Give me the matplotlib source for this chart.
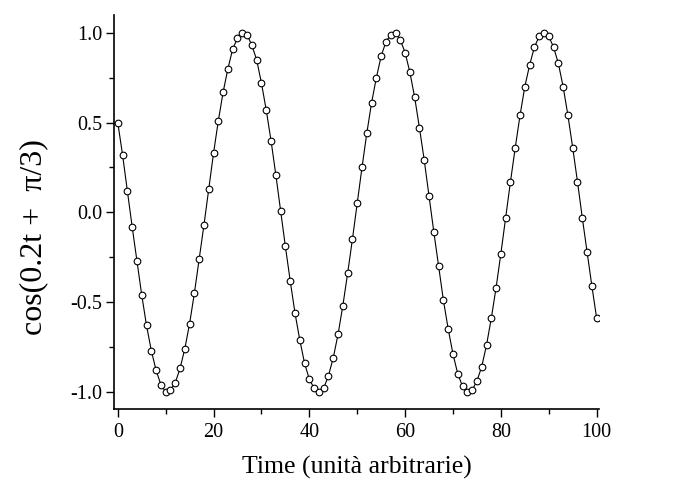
import matplotlib
matplotlib.use("Agg")
import matplotlib.pyplot as plt
from matplotlib.ticker import MultipleLocator

plt.rcParams['font.family'] = ['Liberation Serif', 'DejaVu Serif']

# tempo (unità arbitrarie) e valori
tempo = list(range(0, 101))
valori = [
    0.50, 0.32, 0.12, -0.08, -0.27, -0.46, -0.63, -0.77, -0.88, -0.96,
    -1.00, -0.99, -0.95, -0.87, -0.76, -0.62, -0.45, -0.26, -0.07, 0.13,
    0.33, 0.51, 0.67, 0.80, 0.91, 0.97, 1.00, 0.99, 0.93, 0.85,
    0.72, 0.57, 0.40, 0.21, 0.01, -0.19, -0.38, -0.56, -0.71, -0.84,
    -0.93, -0.98, -1.00, -0.98, -0.91, -0.81, -0.68, -0.52, -0.34, -0.15,
    0.05, 0.25, 0.44, 0.61, 0.75, 0.87, 0.95, 0.99, 1.00, 0.96,
    0.89, 0.78, 0.64, 0.47, 0.29, 0.09, -0.11, -0.30, -0.49, -0.65,
    -0.79, -0.90, -0.97, -1.00, -0.99, -0.94, -0.86, -0.74, -0.59, -0.42,
    -0.23, -0.03, 0.17, 0.36, 0.54, 0.70, 0.82, 0.92, 0.98, 1.00,
    0.98, 0.92, 0.83, 0.70, 0.54, 0.36, 0.17, -0.03, -0.22, -0.41,
    -0.59,
]
yticks = [-1.0, -0.5, 0.0, 0.5, 1.0]
ytick_labels = ['-1.0', '-0.5', '0.0', '0.5', '1.0']

fig = plt.figure(figsize=(6.99, 4.95), dpi=100)
ax = fig.add_axes([0.163, 0.174, 0.694, 0.796])

ax.plot(tempo, valori, color='black', linewidth=0.8, marker='o',
        markersize=4.8, markerfacecolor='white', markeredgecolor='black',
        markeredgewidth=0.8)

ax.set_xlim(-0.8, 100.5)
ax.set_ylim(-1.095, 1.10)

ax.xaxis.set_major_locator(MultipleLocator(20))
ax.xaxis.set_minor_locator(MultipleLocator(10))
ax.yaxis.set_minor_locator(MultipleLocator(0.25))
ax.set_yticks(yticks)
ax.set_yticklabels(ytick_labels)

ax.spines['top'].set_visible(False)
ax.spines['right'].set_visible(False)
ax.spines['left'].set_linewidth(1.2)
ax.spines['bottom'].set_linewidth(1.2)

ax.tick_params(which='major', direction='out', length=5.5, width=1, labelsize=14.5, pad=3)
ax.tick_params(which='minor', direction='out', length=3.5, width=1)
ax.tick_params(axis='x', which='major', pad=5)

ax.set_xlabel('Time (unità arbitrarie)', fontsize=18.5)
ax.xaxis.set_label_coords(0.5, -0.12)
ax.set_ylabel('cos(0.2t +  π/3)', fontsize=23)
ax.yaxis.set_label_coords(-0.135, 0.437)

plt.savefig('out.png', dpi=100)
